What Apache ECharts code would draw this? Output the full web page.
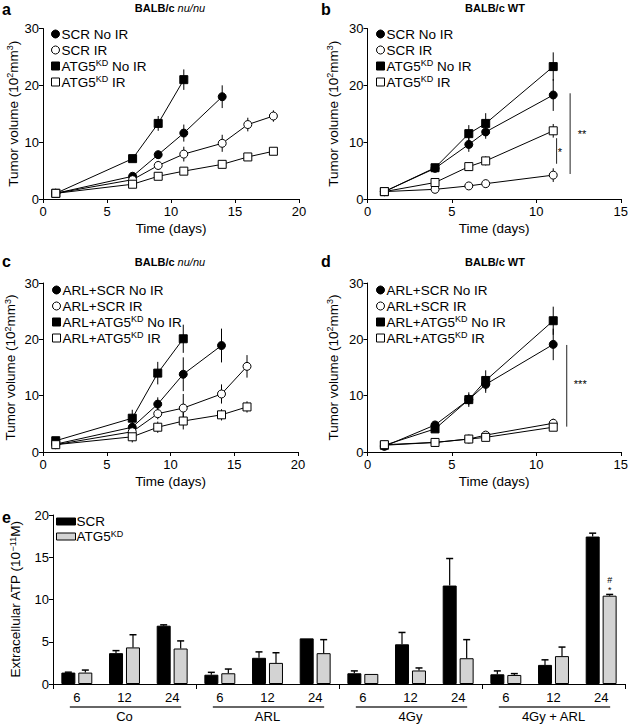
<!DOCTYPE html>
<html>
<head>
<meta charset="utf-8">
<script src="https://cdn.jsdelivr.net/npm/echarts@6/dist/echarts.min.js"></script>
<style>html,body{margin:0;padding:0;background:#fff}#c{width:631px;height:725px}</style>
</head>
<body>
<div id="c"></div>
<script>
// ---------- DATA ----------
// Panel a: BALB/c nu/nu  [day, volume (10^2 mm^3)]
const aSCRNoIR = [[1,1.0],[7,4.0],[9,7.8],[11,11.6],[14,18.0]];
const aSCRNoIRErr = [0.3,0.5,0.7,1.5,2.0];
const aSCRIR = [[1,1.0],[7,3.4],[9,5.9],[11,7.9],[14,9.8],[16,13.1],[18,14.6]];
const aSCRIRErr = [0.2,0.5,0.8,1.3,1.5,1.2,1.0];
const aATG5NoIR = [[1,1.0],[7,7.1],[9,13.3],[11,21.0]];
const aATG5NoIRErr = [0.2,0.5,1.3,1.8];
const aATG5IR = [[1,1.0],[7,2.6],[9,4.0],[11,4.9],[14,6.1],[16,7.4],[18,8.4]];
const aATG5IRErr = [0.2,0.4,0.4,0.4,0.5,0.7,0.5];

// Panel b: BALB/c WT
const bSCRNoIR = [[1,1.3],[4,5.4],[6,9.6],[7,11.8],[11,18.3]];
const bSCRNoIRErr = [0.2,0.5,1.3,1.2,2.8];
const bSCRIR = [[1,1.3],[4,1.7],[6,2.3],[7,2.7],[11,4.2]];
const bSCRIRErr = [0.2,0.3,0.4,0.7,1.2];
const bATG5NoIR = [[1,1.3],[4,5.5],[6,11.5],[7,13.3],[11,23.3]];
const bATG5NoIRErr = [0.2,0.5,1.5,1.8,2.5];
const bATG5IR = [[1,1.3],[4,2.9],[6,5.7],[7,6.7],[11,12.0]];
const bATG5IRErr = [0.2,0.4,0.7,0.8,1.2];
const bSigLines = [[12.0,18.6,4.4],[11.2,10.7,6.2]];
const bSigText = [[12.7,11.4],[11.4,8.3]];
const bSigLabels = ['**','*'];

// Panel c: BALB/c nu/nu (ARL)
const cSCRNoIR = [[1,1.4],[7,4.4],[9,8.5],[11,13.8],[14,18.9]];
const cSCRNoIRErr = [0.3,0.8,1.2,3.0,3.0];
const cSCRIR = [[1,1.3],[7,3.6],[9,6.8],[11,7.8],[14,10.3],[16,15.2]];
const cSCRIRErr = [0.2,0.8,1.0,2.5,1.7,2.0];
const cATG5NoIR = [[1,2.0],[7,6.0],[9,14.0],[11,20.1]];
const cATG5NoIRErr = [0.3,1.5,2.0,2.5];
const cATG5IR = [[1,1.3],[7,2.7],[9,4.4],[11,5.5],[14,6.6],[16,8.0]];
const cATG5IRErr = [0.2,1.0,1.0,1.5,1.0,1.0];

// Panel d: BALB/c WT (ARL)
const dSCRNoIR = [[1,1.0],[4,4.8],[6,9.3],[7,12.0],[11,19.1]];
const dSCRNoIRErr = [0.2,0.5,1.0,1.5,2.8];
const dSCRIR = [[1,1.2],[4,1.7],[6,2.3],[7,3.0],[11,5.1]];
const dSCRIRErr = [0.2,0.3,0.3,0.5,0.8];
const dATG5NoIR = [[1,1.2],[4,4.1],[6,9.3],[7,12.7],[11,23.3]];
const dATG5NoIRErr = [0.2,0.5,1.3,1.8,2.5];
const dATG5IR = [[1,1.3],[4,1.7],[6,2.3],[7,2.6],[11,4.4]];
const dATG5IRErr = [0.2,0.3,0.3,0.4,0.5];
const dSigLines = [[11.8,19.0,4.5]];
const dSigText = [[12.6,12.1]];
const dSigLabels = ['***'];

// Panel e: extracellular ATP (10^-11 M)
const eCategories = ['6','12','24','6','12','24','6','12','24','6','12','24'];
const eGroups = ['Co','ARL','4Gy','4Gy + ARL'];
const eSCR = [1.35,3.65,6.9, 1.1,3.1,5.4, 1.27,4.7,11.65, 1.15,2.26,17.45];
const eSCRErr = [0.05,0.3,0.1, 0.28,0.7,0, 0.28,1.4,3.2, 0.4,0.6,0.4];
const eATG5 = [1.35,4.33,4.2, 1.27,2.5,3.65, 1.19,1.6,3.05, 1.07,3.3,10.45];
const eATG5Err = [0.3,1.5,0.9, 0.5,1.2,1.6, 0.02,0.3,2.2, 0.16,1.07,0.15];
const eSigLabel = '#\n*';

// ---------- STYLE / HELPERS ----------
const FONT = "'Liberation Sans', Arial, Helvetica, sans-serif";
const FS = 13.5;
const SUP = {fontSize: 9, fontFamily: FONT, color: '#000', verticalAlign: 'top', lineHeight: 6};

function lineSeries(name, data, symbol, filled, idx) {
  return {
    type: 'line', name: name, data: data,
    xAxisIndex: idx, yAxisIndex: idx,
    symbol: symbol, symbolSize: 8,
    showSymbol: true, showAllSymbol: true,
    lineStyle: {color: '#000', width: 1},
    itemStyle: {color: filled ? '#000' : '#fff', borderColor: '#000', borderWidth: 1},
    emphasis: {disabled: true},
    z: 3, animation: false, silent: true
  };
}
function errSeries(data, err, idx) {
  return {
    type: 'custom', xAxisIndex: idx, yAxisIndex: idx,
    data: data.map((d, i) => [d[0], d[1], err[i]]),
    encode: {x: 0, y: 1}, itemStyle: {color: '#000'},
    renderItem: function (params, api) {
      const x = api.value(0), y = api.value(1), e = api.value(2);
      const p1 = api.coord([x, y - e]), p2 = api.coord([x, y + e]);
      return {type: 'line', shape: {x1: p1[0], y1: p1[1], x2: p2[0], y2: p2[1]},
              style: {stroke: '#000', lineWidth: 1}};
    },
    z: 2, animation: false, silent: true
  };
}
function sigLineSeries(lines, idx) {
  return {
    type: 'custom', xAxisIndex: idx, yAxisIndex: idx,
    data: lines, encode: {x: 0, y: 1}, itemStyle: {color: '#000'},
    renderItem: function (params, api) {
      const p1 = api.coord([api.value(0), api.value(1)]);
      const p2 = api.coord([api.value(0), api.value(2)]);
      return {type: 'line', shape: {x1: p1[0], y1: p1[1], x2: p2[0], y2: p2[1]},
              style: {stroke: '#222', lineWidth: 1}};
    },
    z: 2, animation: false, silent: true
  };
}
function sigTextSeries(pos, labels, idx) {
  return {
    type: 'custom', xAxisIndex: idx, yAxisIndex: idx,
    data: pos, encode: {x: 0, y: 1}, itemStyle: {color: '#000'},
    renderItem: function (params, api) {
      const p = api.coord([api.value(0), api.value(1)]);
      return {type: 'text', x: p[0], y: p[1],
              style: {text: labels[params.dataIndex], fill: '#000', stroke: null, lineWidth: 0,
                      fontSize: 11, fontFamily: FONT,
                      align: 'center', verticalAlign: 'middle', textAlign: 'center', textVerticalAlign: 'middle'}};
    },
    z: 4, animation: false, silent: true
  };
}
function eErrSeries(vals, errs, offset) {
  return {
    type: 'custom', xAxisIndex: 4, yAxisIndex: 4,
    data: vals.map((v, i) => [i, v, errs[i]]), encode: {x: 0, y: 1}, itemStyle: {color: '#000'},
    renderItem: function (params, api) {
      const i = api.value(0), v = api.value(1), e = api.value(2);
      if (!(e > 0.03)) return null;
      const base = api.coord([i, v]), top = api.coord([i, v + e]);
      const x = base[0] + offset;
      return {type: 'group', children: [
        {type: 'line', shape: {x1: x, y1: base[1], x2: x, y2: top[1]}, style: {stroke: '#000', lineWidth: 1.2}},
        {type: 'line', shape: {x1: x - 3.5, y1: top[1], x2: x + 3.5, y2: top[1]}, style: {stroke: '#000', lineWidth: 1.5}}
      ]};
    },
    z: 4, animation: false, silent: true
  };
}
function legendFormatter(name) {
  return name.replace('ATG5KD', 'ATG5{sup|KD}');
}
function makeLegend(left, top, names) {
  return {
    left: left, top: top, orient: 'vertical',
    itemWidth: 8, itemHeight: 8, itemGap: 0, padding: 0,
    selectedMode: false,
    data: [
      {name: names[0], icon: 'circle', itemStyle: {color: '#000', borderColor: '#000', borderWidth: 1}},
      {name: names[1], icon: 'circle', itemStyle: {color: '#fff', borderColor: '#000', borderWidth: 1}},
      {name: names[2], icon: 'rect', itemStyle: {color: '#000', borderColor: '#000', borderWidth: 1}},
      {name: names[3], icon: 'rect', itemStyle: {color: '#fff', borderColor: '#000', borderWidth: 1}}
    ],
    formatter: legendFormatter,
    textStyle: {fontSize: FS, fontFamily: FONT, color: '#000', lineHeight: 16, padding: [0, 0, 0, -3], rich: {sup: SUP}}
  };
}
function valueX(idx, max, nameGap) {
  return {
    type: 'value', gridIndex: idx, min: 0, max: max, interval: 5,
    name: 'Time (days)', nameLocation: 'middle', nameGap: nameGap,
    nameTextStyle: {fontSize: FS, fontFamily: FONT, color: '#000'},
    axisLine: {show: true, onZero: false, lineStyle: {color: '#000', width: 1}},
    axisTick: {show: true, length: 4, lineStyle: {color: '#000'}},
    axisLabel: {fontSize: 13, fontFamily: FONT, color: '#000', margin: 6},
    splitLine: {show: false}
  };
}
function valueY(idx, nameGap) {
  return {
    type: 'value', gridIndex: idx, min: 0, max: 30, interval: 10,
    name: 'Tumor volume (10{sup|2}mm{sup|3})', nameLocation: 'middle', nameGap: nameGap,
    nameTextStyle: {fontSize: FS, fontFamily: FONT, color: '#000', lineHeight: 15, rich: {sup: SUP}},
    axisLine: {show: true, onZero: false, lineStyle: {color: '#000', width: 1}},
    axisTick: {show: true, length: 4, lineStyle: {color: '#000'}},
    axisLabel: {fontSize: 13, fontFamily: FONT, color: '#000', margin: 4},
    splitLine: {show: false}
  };
}
function titleText(x, y, text) {
  return {type: 'text', x: x, y: y, silent: true,
          style: {text: text, fill: '#000', font: 'bold 11px ' + FONT,
                  align: 'center', verticalAlign: 'middle', textAlign: 'center', textVerticalAlign: 'middle',
                  rich: {i: {fontStyle: 'italic', fontWeight: 'normal', fontSize: 11, fontFamily: FONT, fill: '#000'}}}};
}
function letter(x, y, t) {
  return {type: 'text', x: x, y: y, silent: true,
          style: {text: t, fill: '#000', font: 'bold 16px ' + FONT, align: 'left', verticalAlign: 'middle',
                  textAlign: 'left', textVerticalAlign: 'middle'}};
}

const namesAB = ['SCR No IR', 'SCR IR', 'ATG5KD No IR', 'ATG5KD IR'];
const namesCD = ['ARL+SCR No IR', 'ARL+SCR IR', 'ARL+ATG5KD No IR', 'ARL+ATG5KD IR'];

const option = {
  animation: false,
  backgroundColor: '#fff',
  textStyle: {fontFamily: FONT, color: '#000'},
  grid: [
    {left: 43, top: 28.5, width: 256, height: 170.5},
    {left: 367.5, top: 28.5, width: 256.5, height: 170.5},
    {left: 43, top: 283, width: 255, height: 169},
    {left: 367.5, top: 283, width: 256.5, height: 169},
    {left: 51, top: 515, width: 574, height: 169}
  ],
  legend: [
    makeLegend(51, 26, namesAB),
    makeLegend(376, 26, namesAB),
    makeLegend(52, 282, namesCD),
    makeLegend(376, 282, namesCD),
    {
      left: 56, top: 514, orient: 'vertical', itemWidth: 19, itemHeight: 7, itemGap: 0, padding: 0,
      selectedMode: false,
      data: [
        {name: 'SCR', icon: 'rect', itemStyle: {color: '#000', borderColor: '#000', borderWidth: 1}},
        {name: 'ATG5KD', icon: 'rect', itemStyle: {color: '#d3d3d3', borderColor: '#000', borderWidth: 1}}
      ],
      formatter: function (n) { return n === 'ATG5KD' ? 'ATG5{sup|KD}' : n; },
      textStyle: {fontSize: FS, fontFamily: FONT, color: '#000', lineHeight: 15, padding: [0, 0, 0, -4], rich: {sup: SUP}}
    }
  ],
  xAxis: [
    valueX(0, 20, 22),
    valueX(1, 15, 22),
    valueX(2, 20, 22),
    valueX(3, 15, 22),
    {
      type: 'category', gridIndex: 4, data: eCategories, position: 'bottom',
      axisLine: {show: true, onZero: false, lineStyle: {color: '#000', width: 1}},
      axisTick: {show: true, interval: function (i) { return i % 3 === 0; }, length: 5, lineStyle: {color: '#000'}},
      axisLabel: {interval: 0, fontSize: 13, fontFamily: FONT, color: '#000', margin: 7},
      splitLine: {show: false}
    },
    {
      type: 'category', gridIndex: 4, data: eGroups, position: 'bottom',
      axisLine: {show: false}, axisTick: {show: false},
      axisLabel: {interval: 0, fontSize: 13, fontFamily: FONT, color: '#000', margin: 26},
      splitLine: {show: false}
    }
  ],
  yAxis: [
    valueY(0, 22),
    valueY(1, 27),
    valueY(2, 25),
    valueY(3, 27),
    {
      type: 'value', gridIndex: 4, min: 0, max: 20, interval: 5,
      name: 'Extracellular ATP (10{sup|−11}M)', nameLocation: 'middle', nameGap: 30,
      nameTextStyle: {fontSize: FS, fontFamily: FONT, color: '#000', lineHeight: 15, rich: {sup: SUP}},
      axisLine: {show: true, onZero: false, lineStyle: {color: '#000', width: 1}},
      axisTick: {show: true, length: 4, lineStyle: {color: '#000'}},
      axisLabel: {fontSize: 13, fontFamily: FONT, color: '#000', margin: 4},
      splitLine: {show: false}
    }
  ],
  graphic: [
    letter(2, 9, 'a'), letter(321, 9, 'b'), letter(2, 261, 'c'), letter(321, 261, 'd'), letter(2, 517, 'e'),
    titleText(170, 8, 'BALB/c {i|nu/nu}'), titleText(495, 8, 'BALB/c WT'),
    titleText(170, 262, 'BALB/c {i|nu/nu}'), titleText(495, 262, 'BALB/c WT')
  ],
  series: [
    errSeries(aSCRNoIR, aSCRNoIRErr, 0), errSeries(aSCRIR, aSCRIRErr, 0),
    errSeries(aATG5NoIR, aATG5NoIRErr, 0), errSeries(aATG5IR, aATG5IRErr, 0),
    lineSeries('SCR No IR', aSCRNoIR, 'circle', true, 0),
    lineSeries('SCR IR', aSCRIR, 'circle', false, 0),
    lineSeries('ATG5KD No IR', aATG5NoIR, 'rect', true, 0),
    lineSeries('ATG5KD IR', aATG5IR, 'rect', false, 0),

    errSeries(bSCRNoIR, bSCRNoIRErr, 1), errSeries(bSCRIR, bSCRIRErr, 1),
    errSeries(bATG5NoIR, bATG5NoIRErr, 1), errSeries(bATG5IR, bATG5IRErr, 1),
    lineSeries('SCR No IR', bSCRNoIR, 'circle', true, 1),
    lineSeries('SCR IR', bSCRIR, 'circle', false, 1),
    lineSeries('ATG5KD No IR', bATG5NoIR, 'rect', true, 1),
    lineSeries('ATG5KD IR', bATG5IR, 'rect', false, 1),
    sigLineSeries(bSigLines, 1), sigTextSeries(bSigText, bSigLabels, 1),

    errSeries(cSCRNoIR, cSCRNoIRErr, 2), errSeries(cSCRIR, cSCRIRErr, 2),
    errSeries(cATG5NoIR, cATG5NoIRErr, 2), errSeries(cATG5IR, cATG5IRErr, 2),
    lineSeries('ARL+SCR No IR', cSCRNoIR, 'circle', true, 2),
    lineSeries('ARL+SCR IR', cSCRIR, 'circle', false, 2),
    lineSeries('ARL+ATG5KD No IR', cATG5NoIR, 'rect', true, 2),
    lineSeries('ARL+ATG5KD IR', cATG5IR, 'rect', false, 2),

    errSeries(dSCRNoIR, dSCRNoIRErr, 3), errSeries(dSCRIR, dSCRIRErr, 3),
    errSeries(dATG5NoIR, dATG5NoIRErr, 3), errSeries(dATG5IR, dATG5IRErr, 3),
    lineSeries('ARL+SCR No IR', dSCRNoIR, 'circle', true, 3),
    lineSeries('ARL+SCR IR', dSCRIR, 'circle', false, 3),
    lineSeries('ARL+ATG5KD No IR', dATG5NoIR, 'rect', true, 3),
    lineSeries('ARL+ATG5KD IR', dATG5IR, 'rect', false, 3),
    sigLineSeries(dSigLines, 3), sigTextSeries(dSigText, dSigLabels, 3),

    {
      type: 'bar', name: 'SCR', xAxisIndex: 4, yAxisIndex: 4, data: eSCR,
      barWidth: 14, barGap: '21%',
      itemStyle: {color: '#000', borderColor: '#000', borderWidth: 1},
      emphasis: {disabled: true}, silent: true, z: 2
    },
    {
      type: 'bar', name: 'ATG5KD', xAxisIndex: 4, yAxisIndex: 4,
      data: eATG5.map((v, i) => i === eATG5.length - 1
        ? {value: v, label: {show: true, position: 'top', distance: 1, formatter: eSigLabel,
             fontSize: 9, lineHeight: 10, fontFamily: FONT, color: '#000', textBorderWidth: 0}}
        : v),
      barWidth: 14, barGap: '21%',
      itemStyle: {color: '#d3d3d3', borderColor: '#000', borderWidth: 1},
      emphasis: {disabled: true}, silent: true, z: 2
    },
    eErrSeries(eSCR, eSCRErr, -8.5),
    eErrSeries(eATG5, eATG5Err, 8.5),
    {
      type: 'custom', xAxisIndex: 4, yAxisIndex: 4, itemStyle: {color: '#000'},
      data: eGroups.map((g, i) => [i * 3, 0]), encode: {x: 0, y: 1},
      renderItem: function (params, api) {
        const c0 = api.coord([api.value(0), 0]);
        const c2 = api.coord([api.value(0) + 2, 0]);
        const y = c0[1] + 23;
        return {type: 'line', shape: {x1: c0[0] - 7, y1: y, x2: c2[0] + 9, y2: y},
                style: {stroke: '#333', lineWidth: 1.5}};
      },
      z: 2, animation: false, silent: true
    }
  ]
};

const chart = echarts.init(document.getElementById('c'), null, {renderer: 'svg'});
chart.setOption(option);
</script>
</body>
</html>
